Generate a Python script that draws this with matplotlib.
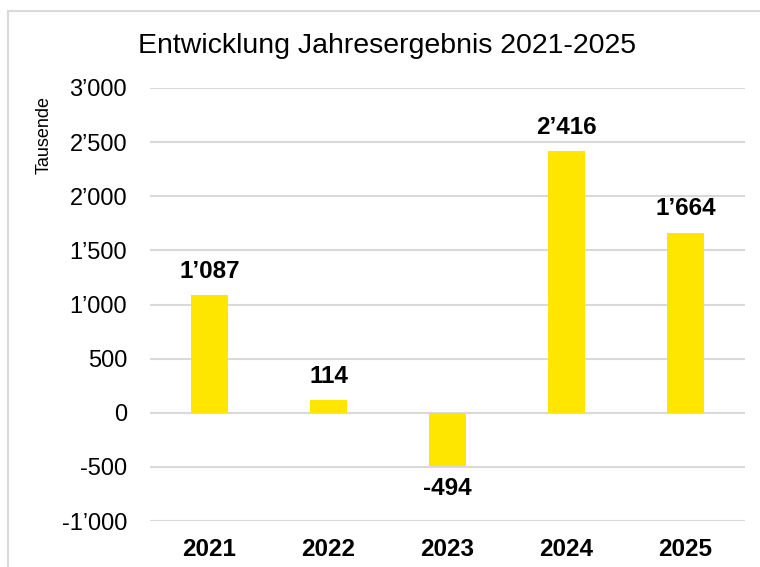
import numpy as np
import matplotlib.pyplot as plt
from matplotlib.patches import Rectangle
from matplotlib.ticker import FuncFormatter

plt.rcParams['font.family'] = ['Liberation Sans', 'DejaVu Sans']

years = ['2021', '2022', '2023', '2024', '2025']
result = [1087, 114, -494, 2416, 1664]

def tsd(v, pos=None):
    s = '{:,.0f}'.format(v).replace(',', '\u2019')
    return s

fig = plt.figure(figsize=(7.6, 5.67), dpi=100)
ax = fig.add_axes([150/760, 1-521/567, 595/760, (521-88)/567])

x = np.arange(len(years))
ax.bar(x, result, width=0.31, color='#FFE600', zorder=3)

for xi, v in zip(x, result):
    if v >= 0:
        ax.annotate(tsd(v), (xi, v), xytext=(0, 9), textcoords='offset points',
                    ha='center', va='bottom', fontsize=17.5, fontweight='bold')
    else:
        ax.annotate(tsd(v), (xi, v), xytext=(0, -8), textcoords='offset points',
                    ha='center', va='top', fontsize=17.5, fontweight='bold')

ax.set_xlim(-0.5, 4.5)
ax.set_ylim(-1000, 3000)
ax.set_yticks(np.arange(-1000, 3001, 500))
ax.yaxis.set_major_formatter(FuncFormatter(tsd))
ax.set_xticks(x)
ax.set_xticklabels(years, fontweight='bold')
ax.tick_params(axis='both', length=0)
ax.tick_params(axis='y', pad=16.5, labelsize=17)
ax.tick_params(axis='x', pad=12, labelsize=17.5)
ax.grid(axis='y', color='#D9D9D9', linewidth=1.5, zorder=0)
for s in ax.spines.values():
    s.set_visible(False)

fig.text(44/760, 1-135/567, 'Tausende', rotation=90, ha='center', va='center',
         fontsize=13)
fig.text(387/760, 1-46/567, 'Entwicklung Jahresergebnis 2021-2025',
         ha='center', va='center', fontsize=20.5)

fig.patches.append(Rectangle((8/760, -0.1), 1.2, 1.1 - 11/567,
                             transform=fig.transFigure, fill=False,
                             edgecolor='#D9D9D9', linewidth=1.5))

fig.savefig('out.png')
